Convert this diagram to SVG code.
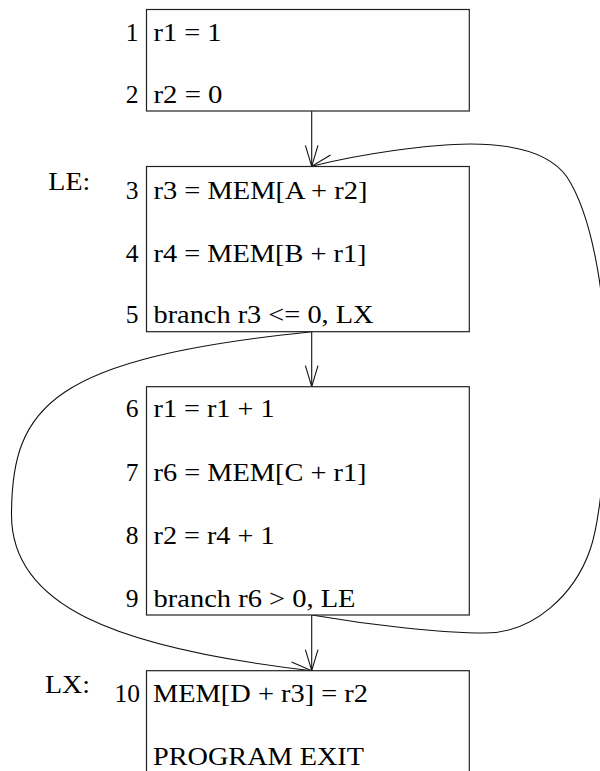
<svg xmlns="http://www.w3.org/2000/svg" width="600" height="771" viewBox="0 0 600 771">
<defs>
<style>
text{font-family:"Liberation Serif","Times New Roman",serif;font-size:25.5px;fill:#000}
.num{text-anchor:end}
.box{fill:#fff;stroke:#222;stroke-width:1.2}
.edge{fill:none;stroke:#111;stroke-width:1.1}
</style>
<marker id="ah" markerUnits="userSpaceOnUse" markerWidth="24" markerHeight="16" viewBox="-22 -8 24 16" refX="0" refY="0" orient="auto">
<path d="M-21,-6.3 L0,0 L-21,6.3" fill="none" stroke="#111" stroke-width="1.1"/>
</marker>
</defs>
<rect width="600" height="771" fill="#fff"/>
<g id="connectors">
<path class="edge" d="M311.7,111 L311.7,166.3" marker-end="url(#ah)"/>
<path class="edge" d="M311.7,331.7 L311.7,386.7" marker-end="url(#ah)"/>
<path class="edge" d="M311.7,615 L311.7,670.7" marker-end="url(#ah)"/>
<path class="edge" d="M311.7,615 C370,625 440,633 485,633 C535,633 575,593 590,550 C600,522 607,450 607,385 C607,310 595,220 567,177 C548,150 505,144 470,144 C430,144 360,154 311.7,166.3" marker-end="url(#ah)"/>
<path class="edge" d="M311.7,331.7 C53,358.7 11.5,405 11.5,515 C11.5,605 113.1,647.7 311.7,670.7" marker-end="url(#ah)"/>
</g>
<g id="block1">
<rect class="box" x="146.5" y="9.5" width="322.8" height="101.5"/>
<text class="num" x="138.5" y="40.7">1</text>
<text x="153.5" y="40.7" textLength="68" lengthAdjust="spacingAndGlyphs">r1 = 1</text>
<text class="num" x="138.5" y="103.3">2</text>
<text x="153.5" y="103.3" textLength="69" lengthAdjust="spacingAndGlyphs">r2 = 0</text>
</g>
<g id="block2">
<text x="48.3" y="190" textLength="42" lengthAdjust="spacingAndGlyphs">LE:</text>
<rect class="box" x="146.5" y="166.5" width="322.8" height="165.2"/>
<text class="num" x="138.5" y="198.5">3</text>
<text x="153.5" y="199" textLength="214" lengthAdjust="spacingAndGlyphs">r3 = MEM[A + r2]</text>
<text class="num" x="138.5" y="261.7">4</text>
<text x="153.5" y="261.7" textLength="213" lengthAdjust="spacingAndGlyphs">r4 = MEM[B + r1]</text>
<text class="num" x="138.5" y="323.3">5</text>
<text x="153.5" y="323.3" textLength="220" lengthAdjust="spacingAndGlyphs">branch r3 &lt;= 0, LX</text>
</g>
<g id="block3">
<rect class="box" x="146.5" y="386.7" width="322.8" height="228.3"/>
<text class="num" x="138.5" y="417.3">6</text>
<text x="153.5" y="417.3" textLength="121" lengthAdjust="spacingAndGlyphs">r1 = r1 + 1</text>
<text class="num" x="138.5" y="480.7">7</text>
<text x="153.5" y="480.7" textLength="213" lengthAdjust="spacingAndGlyphs">r6 = MEM[C + r1]</text>
<text class="num" x="138.5" y="544">8</text>
<text x="153.5" y="544" textLength="121" lengthAdjust="spacingAndGlyphs">r2 = r4 + 1</text>
<text class="num" x="138.5" y="606.7">9</text>
<text x="153.5" y="606.7" textLength="202" lengthAdjust="spacingAndGlyphs">branch r6 &gt; 0, LE</text>
</g>
<g id="block4">
<text x="45" y="693.3" textLength="45" lengthAdjust="spacingAndGlyphs">LX:</text>
<rect class="box" x="146.5" y="670.7" width="322.8" height="130"/>
<text class="num" x="140" y="701.5">10</text>
<text x="153" y="701.5" textLength="215" lengthAdjust="spacingAndGlyphs">MEM[D + r3] = r2</text>
<text x="153" y="765" textLength="211" lengthAdjust="spacingAndGlyphs">PROGRAM EXIT</text>
</g>
</svg>
